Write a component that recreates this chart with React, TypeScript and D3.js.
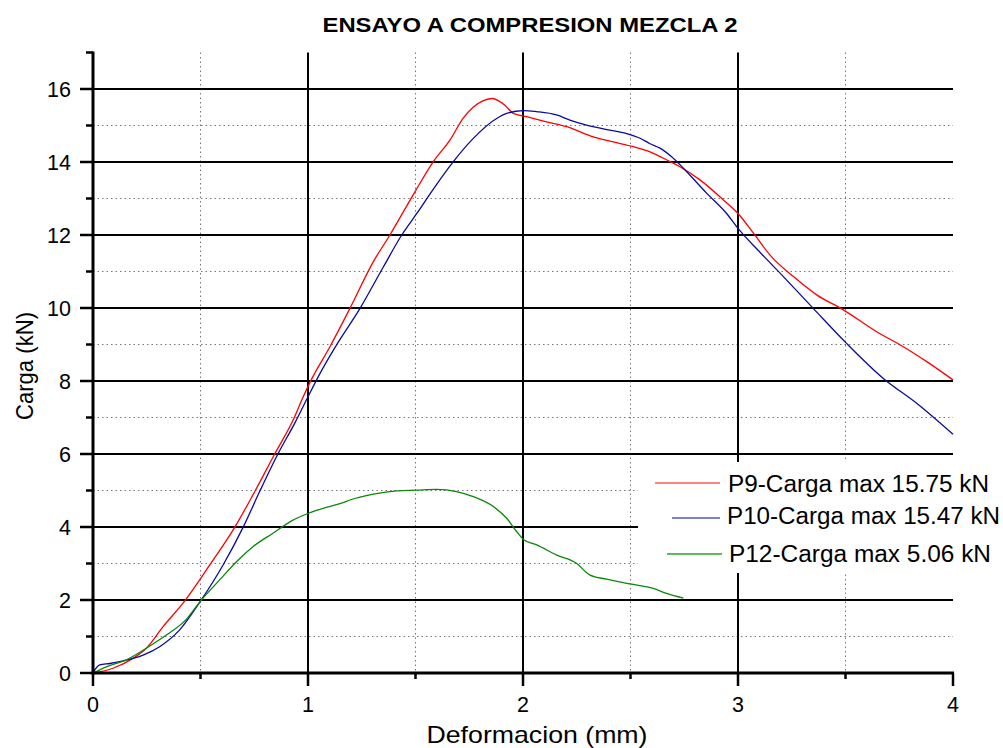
import React from "react";
import * as d3 from "d3";

const title = "ENSAYO A COMPRESION MEZCLA 2";
const xLabel = "Deformacion (mm)";
const yLabel = "Carga (kN)";
const xTicks = [0, 1, 2, 3, 4];
const xMinor = [0.5, 1.5, 2.5, 3.5];
const yTicks = [0, 2, 4, 6, 8, 10, 12, 14, 16];
const yMinor = [1, 3, 5, 7, 9, 11, 13, 15, 17];
const seriesNames = ["P9-Carga max 15.75 kN", "P10-Carga max 15.47 kN", "P12-Carga max 5.06 kN"];
const seriesColors = ["#ff0000", "#0a0a9c", "#0a880a"];
const legendColors = ["#ff5a5a", "#5050c0", "#30a030"];

const p9: [number, number][] = [
  [0, 0], [0.093, 0.13], [0.186, 0.4], [0.248, 0.68], [0.326, 1.27], [0.426, 1.97], [0.543, 2.96],
  [0.659, 3.99], [0.744, 4.88], [0.845, 6.0], [0.938, 7.02], [0.971, 7.48], [1.015, 8.03],
  [1.102, 8.94], [1.195, 9.99], [1.304, 11.27], [1.381, 12.0], [1.498, 13.19], [1.583, 14.01],
  [1.66, 14.6], [1.722, 15.2], [1.816, 15.68], [1.86, 15.74], [1.885, 15.68], [1.917, 15.55],
  [1.955, 15.33], [2.017, 15.24], [2.11, 15.1], [2.203, 14.97], [2.327, 14.69], [2.42, 14.55],
  [2.513, 14.42], [2.591, 14.28], [2.684, 14.01], [2.73, 13.87], [2.823, 13.51], [2.932, 12.96],
  [3.0, 12.59], [3.072, 12.05], [3.149, 11.45], [3.258, 10.86], [3.366, 10.36], [3.49, 9.95],
  [3.645, 9.35], [3.769, 8.94], [3.878, 8.53], [4.0, 8.03],
];

const p10: [number, number][] = [
  [0, 0], [0.01, 0.1], [0.031, 0.22], [0.078, 0.26], [0.14, 0.33], [0.233, 0.49], [0.31, 0.72],
  [0.403, 1.18], [0.5, 1.97], [0.605, 2.96], [0.698, 3.99], [0.775, 4.97], [0.86, 6.0],
  [0.938, 6.84], [1.0, 7.57], [1.056, 8.21], [1.133, 8.99], [1.242, 9.99], [1.351, 11.13],
  [1.436, 12.0], [1.506, 12.59], [1.575, 13.19], [1.676, 14.01], [1.761, 14.6], [1.885, 15.22],
  [1.924, 15.33], [2.002, 15.41], [2.063, 15.38], [2.156, 15.29], [2.218, 15.15], [2.296, 15.01],
  [2.39, 14.89], [2.482, 14.78], [2.545, 14.65], [2.591, 14.5], [2.637, 14.38], [2.69, 14.15],
  [2.746, 13.83], [2.855, 13.14], [2.947, 12.59], [3.006, 12.14], [3.1, 11.54], [3.211, 10.86],
  [3.35, 9.99], [3.505, 9.03], [3.676, 8.07], [3.831, 7.39], [4.0, 6.54],
];

const p12: [number, number][] = [
  [0, 0], [0.062, 0.17], [0.155, 0.36], [0.248, 0.68], [0.341, 1.04], [0.434, 1.47], [0.5, 1.97],
  [0.589, 2.55], [0.667, 3.05], [0.744, 3.46], [0.837, 3.83], [0.93, 4.19], [1.0, 4.37],
  [1.085, 4.54], [1.163, 4.67], [1.195, 4.74], [1.304, 4.9], [1.412, 4.99], [1.505, 5.01],
  [1.598, 5.03], [1.691, 4.97], [1.769, 4.83], [1.862, 4.56], [1.924, 4.24], [1.971, 3.87],
  [2.002, 3.66], [2.064, 3.51], [2.157, 3.23], [2.25, 3.0], [2.312, 2.68], [2.389, 2.57],
  [2.498, 2.44], [2.606, 2.32], [2.668, 2.18], [2.746, 2.05],
];

const series = [p9, p10, p12];

const W = 1003;
const H = 748;
const FONT = "'Liberation Sans', Arial, sans-serif";

export default function App() {
  const x = d3.scaleLinear().domain([0, 4]).range([93, 953]);
  const y = d3.scaleLinear().domain([0, 17]).range([673, 52.5]);
  const line = d3
    .line<[number, number]>()
    .x((d) => x(d[0]))
    .y((d) => y(d[1]))
    .curve(d3.curveMonotoneX);

  const legendLines = [
    { x1: 655, x2: 720, y: 483, tx: 728, ty: 492, len: 261 },
    { x1: 672, x2: 720, y: 518, tx: 727, ty: 524, len: 273 },
    { x1: 667, x2: 722, y: 554, tx: 729, ty: 562, len: 262 },
  ];

  return (
    <svg
      width={W}
      height={H}
      style={{ position: "absolute", left: 0, top: 0, background: "#fff" }}
      fontFamily={FONT}
    >
      <rect x={0} y={0} width={W} height={H} fill="#fff" />
      <text x={530} y={32} textAnchor="middle" fontWeight="bold" fontSize={21} textLength={415} lengthAdjust="spacingAndGlyphs">
        {title}
      </text>

      {/* minor grid */}
      {xMinor.map((v) => (
        <line key={"xm" + v} x1={x(v)} x2={x(v)} y1={y(17)} y2={y(0)} stroke="#777" strokeWidth={1} strokeDasharray="1.5,3" />
      ))}
      {yMinor.filter((v) => v < 17).map((v) => (
        <line key={"ym" + v} x1={x(0)} x2={x(4)} y1={y(v)} y2={y(v)} stroke="#777" strokeWidth={1} strokeDasharray="1.5,3" />
      ))}
      {/* major grid */}
      {xTicks.filter((v) => v > 0 && v < 4).map((v) => (
        <line key={"xg" + v} x1={x(v)} x2={x(v)} y1={y(17)} y2={y(0)} stroke="#000" strokeWidth={2} />
      ))}
      {yTicks.filter((v) => v > 0).map((v) => (
        <line key={"yg" + v} x1={x(0)} x2={x(4)} y1={y(v)} y2={y(v)} stroke="#000" strokeWidth={2} />
      ))}

      {/* legend background */}
      <rect x={638} y={462} width={W - 638} height={111} fill="#fff" />

      {/* curves */}
      {series.map((s, i) => (
        <path key={"s" + i} d={line(s) || ""} fill="none" stroke={seriesColors[i]} strokeWidth={1.3} />
      ))}

      {/* axes */}
      <line x1={x(0)} x2={x(0)} y1={y(17) - 1} y2={y(0) + 1.5} stroke="#000" strokeWidth={3} />
      <line x1={x(0) - 1.5} x2={x(4) + 1} y1={y(0)} y2={y(0)} stroke="#000" strokeWidth={3} />
      {xTicks.map((v) => (
        <g key={"xt" + v}>
          <line x1={x(v)} x2={x(v)} y1={y(0)} y2={y(0) + 13} stroke="#000" strokeWidth={2.5} />
          <text x={x(v)} y={712} textAnchor="middle" fontSize={21.5}>
            {v}
          </text>
        </g>
      ))}
      {xMinor.map((v) => (
        <line key={"xmt" + v} x1={x(v)} x2={x(v)} y1={y(0)} y2={y(0) + 6} stroke="#000" strokeWidth={2.5} />
      ))}
      {yTicks.map((v) => (
        <g key={"yt" + v}>
          <line x1={x(0) - 13} x2={x(0)} y1={y(v)} y2={y(v)} stroke="#000" strokeWidth={2.5} />
          <text x={71} y={y(v) + 7.5} textAnchor="end" fontSize={21.5}>
            {v}
          </text>
        </g>
      ))}
      {yMinor.map((v) => (
        <line key={"ymt" + v} x1={x(0) - 7} x2={x(0)} y1={y(v)} y2={y(v)} stroke="#000" strokeWidth={2.5} />
      ))}

      <text x={537} y={743} textAnchor="middle" fontSize={24} textLength={221} lengthAdjust="spacingAndGlyphs">
        {xLabel}
      </text>
      <text
        transform="translate(33,366) rotate(-90)"
        textAnchor="middle"
        fontSize={24}
        textLength={108}
        lengthAdjust="spacingAndGlyphs"
      >
        {yLabel}
      </text>

      {/* legend */}
      {legendLines.map((l, i) => (
        <g key={"lg" + i}>
          <line x1={l.x1} x2={l.x2} y1={l.y} y2={l.y} stroke={legendColors[i]} strokeWidth={1.6} />
          <text x={l.tx} y={l.ty} fontSize={23} textLength={l.len} lengthAdjust="spacingAndGlyphs">
            {seriesNames[i]}
          </text>
        </g>
      ))}
    </svg>
  );
}
